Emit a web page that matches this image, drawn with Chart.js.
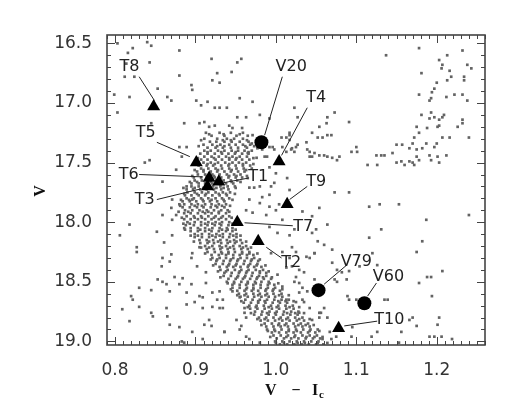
<!DOCTYPE html>
<html>
<head>
<meta charset="utf-8">
<script src="https://cdn.jsdelivr.net/npm/chart.js@4.4.1/dist/chart.umd.min.js"></script>
<style>
  html, body { margin: 0; padding: 0; background: #fff; }
  #wrap { width: 518px; height: 415px; }
</style>
</head>
<body>
<div id="wrap"><canvas id="cmd" width="518" height="415"></canvas></div>
<script>
// axis ticks
const xTicks = [0.8, 0.9, 1.0, 1.1, 1.2];
const yTicks = [16.5, 17.0, 17.5, 18.0, 18.5, 19.0];

// labelled targets (triangles) and variables (circles)
const triNames = ['T1', 'T2', 'T3', 'T4', 'T5', 'T6', 'T7', 'T8', 'T9', 'T10'];
const triX = [0.929, 0.978, 0.915, 1.004, 0.901, 0.917, 0.952, 0.848, 1.014, 1.078];
const triV = [17.66, 18.16, 17.70, 17.49, 17.50, 17.63, 18.00, 17.03, 17.85, 18.89];
const varNames = ['V20', 'V79', 'V60'];
const varX = [0.982, 1.053, 1.110];
const varV = [17.33, 18.57, 18.68];

// main sequence rows: [V, colour, colour, ...]
const msRows = [
  [17.250, 0.913, 0.930, 0.944, 0.959],
  [17.275, 0.920, 0.936, 0.951, 0.965],
  [17.300, 0.911, 0.927, 0.939, 0.948, 0.959],
  [17.325, 0.918, 0.926, 0.936, 0.945, 0.955, 0.966],
  [17.350, 0.910, 0.921, 0.931, 0.942, 0.950, 0.959, 0.968],
  [17.375, 0.915, 0.925, 0.934, 0.944, 0.953, 0.964],
  [17.400, 0.911, 0.919, 0.928, 0.936, 0.945, 0.953, 0.961, 0.970],
  [17.425, 0.906, 0.915, 0.924, 0.933, 0.941, 0.949, 0.958, 0.966],
  [17.450, 0.911, 0.920, 0.929, 0.938, 0.946, 0.955, 0.964],
  [17.475, 0.907, 0.915, 0.925, 0.933, 0.942, 0.950, 0.958, 0.967],
  [17.500, 0.910, 0.919, 0.928, 0.937, 0.946, 0.954, 0.963],
  [17.525, 0.904, 0.914, 0.922, 0.932, 0.941, 0.950, 0.959, 0.968],
  [17.550, 0.907, 0.916, 0.925, 0.933, 0.942, 0.951, 0.960],
  [17.575, 0.902, 0.910, 0.919, 0.927, 0.936, 0.944, 0.953, 0.961],
  [17.600, 0.903, 0.912, 0.921, 0.930, 0.939, 0.948, 0.956],
  [17.625, 0.898, 0.907, 0.915, 0.924, 0.932, 0.941, 0.950, 0.958],
  [17.650, 0.899, 0.908, 0.917, 0.926, 0.935, 0.944, 0.952],
  [17.675, 0.895, 0.904, 0.912, 0.921, 0.929, 0.938, 0.947],
  [17.700, 0.895, 0.904, 0.913, 0.922, 0.931, 0.940, 0.949],
  [17.725, 0.889, 0.897, 0.906, 0.914, 0.923, 0.932, 0.941],
  [17.750, 0.890, 0.899, 0.908, 0.916, 0.925, 0.934, 0.943],
  [17.775, 0.887, 0.895, 0.904, 0.912, 0.921, 0.930, 0.939],
  [17.800, 0.889, 0.898, 0.907, 0.916, 0.925, 0.933, 0.942],
  [17.825, 0.884, 0.893, 0.901, 0.910, 0.918, 0.927, 0.936],
  [17.850, 0.886, 0.895, 0.903, 0.912, 0.920, 0.929, 0.938],
  [17.875, 0.884, 0.893, 0.902, 0.910, 0.919, 0.927, 0.936],
  [17.900, 0.887, 0.896, 0.905, 0.914, 0.923, 0.932, 0.940],
  [17.925, 0.886, 0.894, 0.903, 0.912, 0.920, 0.929, 0.938],
  [17.950, 0.889, 0.898, 0.907, 0.916, 0.925, 0.934, 0.942],
  [17.975, 0.886, 0.894, 0.903, 0.912, 0.920, 0.929, 0.938],
  [18.000, 0.890, 0.899, 0.907, 0.916, 0.925, 0.933, 0.942],
  [18.025, 0.888, 0.898, 0.907, 0.915, 0.924, 0.932, 0.941],
  [18.050, 0.894, 0.903, 0.912, 0.921, 0.930, 0.939, 0.946],
  [18.075, 0.894, 0.903, 0.912, 0.920, 0.929, 0.938, 0.946],
  [18.100, 0.899, 0.908, 0.917, 0.926, 0.934, 0.943, 0.951],
  [18.125, 0.899, 0.908, 0.917, 0.925, 0.934, 0.942, 0.951],
  [18.150, 0.905, 0.914, 0.922, 0.931, 0.939, 0.948, 0.956],
  [18.175, 0.906, 0.915, 0.923, 0.932, 0.940, 0.949, 0.958],
  [18.200, 0.912, 0.921, 0.930, 0.938, 0.947, 0.955, 0.963],
  [18.225, 0.914, 0.923, 0.931, 0.940, 0.948, 0.957, 0.965],
  [18.250, 0.915, 0.924, 0.932, 0.941, 0.949, 0.958, 0.967],
  [18.275, 0.920, 0.929, 0.938, 0.947, 0.955, 0.964, 0.972],
  [18.300, 0.921, 0.930, 0.938, 0.947, 0.956, 0.964, 0.973],
  [18.325, 0.926, 0.935, 0.943, 0.952, 0.961, 0.969, 0.978],
  [18.350, 0.925, 0.934, 0.942, 0.951, 0.960, 0.968, 0.977],
  [18.375, 0.930, 0.939, 0.947, 0.956, 0.965, 0.973, 0.982],
  [18.400, 0.931, 0.940, 0.949, 0.957, 0.966, 0.975, 0.984],
  [18.425, 0.936, 0.945, 0.954, 0.963, 0.971, 0.980, 0.988],
  [18.450, 0.935, 0.944, 0.953, 0.962, 0.970, 0.979, 0.988],
  [18.475, 0.941, 0.950, 0.959, 0.968, 0.976, 0.985, 0.994],
  [18.500, 0.939, 0.948, 0.957, 0.965, 0.974, 0.982, 0.991],
  [18.525, 0.946, 0.955, 0.963, 0.972, 0.981, 0.990, 0.998],
  [18.550, 0.946, 0.955, 0.964, 0.972, 0.981, 0.990, 0.999],
  [18.575, 0.952, 0.961, 0.970, 0.978, 0.987, 0.996, 1.005],
  [18.600, 0.954, 0.963, 0.972, 0.980, 0.989, 0.997, 1.007],
  [18.625, 0.956, 0.965, 0.973, 0.982, 0.991, 0.999, 1.008],
  [18.650, 0.962, 0.971, 0.980, 0.989, 0.998, 1.007, 1.016],
  [18.675, 0.960, 0.969, 0.978, 0.987, 0.996, 1.005, 1.014],
  [18.700, 0.967, 0.976, 0.985, 0.994, 1.003, 1.012, 1.021],
  [18.725, 0.968, 0.977, 0.986, 0.995, 1.004, 1.013, 1.022],
  [18.750, 0.974, 0.983, 0.992, 1.001, 1.010, 1.019, 1.028],
  [18.775, 0.973, 0.982, 0.991, 1.000, 1.009, 1.018, 1.027],
  [18.800, 0.979, 0.988, 0.997, 1.006, 1.015, 1.024, 1.033],
  [18.825, 0.981, 0.990, 0.999, 1.008, 1.017, 1.026, 1.035],
  [18.850, 0.986, 0.995, 1.004, 1.013, 1.022, 1.031, 1.040],
  [18.875, 0.988, 0.997, 1.006, 1.015, 1.024, 1.033, 1.042],
  [18.900, 0.989, 0.998, 1.007, 1.016, 1.025, 1.034, 1.043],
  [18.925, 0.995, 1.004, 1.013, 1.022, 1.031, 1.040, 1.049],
  [18.950, 0.997, 1.006, 1.015, 1.024, 1.033, 1.042, 1.051],
  [18.975, 1.001, 1.010, 1.019, 1.028, 1.037, 1.046, 1.055],
  [19.000, 0.999, 1.008, 1.017, 1.026, 1.035, 1.044, 1.053],
  [19.025, 1.005, 1.014, 1.023, 1.032, 1.041, 1.050, 1.059]
];

// main sequence stars between the rows above
const msInnerRows = [
  [17.2625, 0.917, 0.935, 0.955],
  [17.3125, 0.907, 0.934, 0.944, 0.964],
  [17.3625, 0.904, 0.927, 0.936, 0.962, 0.973],
  [17.4125, 0.915, 0.932, 0.950, 0.966],
  [17.4625, 0.903, 0.923, 0.942, 0.951, 0.972],
  [17.5125, 0.915, 0.924, 0.942, 0.959, 0.972],
  [17.5625, 0.899, 0.910, 0.928, 0.945, 0.963],
  [17.6125, 0.896, 0.914, 0.923, 0.942, 0.951, 0.964],
  [17.6625, 0.893, 0.902, 0.919, 0.928, 0.945, 0.956],
  [17.7125, 0.885, 0.899, 0.910, 0.926, 0.935, 0.950],
  [17.7625, 0.886, 0.902, 0.913, 0.929, 0.938, 0.949],
  [17.8125, 0.882, 0.892, 0.909, 0.920, 0.935, 0.946],
  [17.8625, 0.881, 0.899, 0.908, 0.925, 0.933, 0.943],
  [17.9125, 0.879, 0.891, 0.909, 0.916, 0.929, 0.942],
  [17.9625, 0.883, 0.899, 0.908, 0.923, 0.932, 0.945],
  [18.0125, 0.885, 0.893, 0.912, 0.921, 0.930, 0.946],
  [18.0625, 0.887, 0.906, 0.917, 0.933, 0.940, 0.950],
  [18.1125, 0.894, 0.903, 0.921, 0.930, 0.947, 0.956],
  [18.1625, 0.898, 0.917, 0.928, 0.943, 0.951, 0.963],
  [18.2125, 0.907, 0.917, 0.933, 0.943, 0.959, 0.969],
  [18.2625, 0.912, 0.933, 0.941, 0.958, 0.967, 0.977],
  [18.3125, 0.919, 0.927, 0.944, 0.953, 0.970, 0.980],
  [18.3625, 0.922, 0.941, 0.950, 0.966, 0.976, 0.987],
  [18.4125, 0.928, 0.938, 0.955, 0.964, 0.980, 0.991],
  [18.4625, 0.931, 0.952, 0.961, 0.977, 0.984, 0.995],
  [18.5125, 0.940, 0.948, 0.965, 0.975, 0.992, 1.003],
  [18.5625, 0.944, 0.963, 0.972, 0.988, 0.997, 1.008],
  [18.6125, 0.952, 0.961, 0.978, 0.987, 1.004, 1.016],
  [18.6625, 0.957, 0.978, 0.986, 1.003, 1.012, 1.022],
  [18.7125, 0.965, 0.975, 0.991, 1.001, 1.017, 1.029],
  [18.7625, 0.969, 0.989, 0.999, 1.014, 1.024, 1.035],
  [18.8125, 0.977, 0.986, 1.004, 1.013, 1.029, 1.042],
  [18.8625, 0.982, 1.003, 1.011, 1.028, 1.037, 1.047],
  [18.9125, 0.990, 0.999, 1.016, 1.026, 1.042, 1.054],
  [18.9625, 0.993, 1.013, 1.023, 1.038, 1.048, 1.058],
  [19.0125, 1.000, 1.010, 1.027, 1.036, 1.052, 1.064]
];

// field, subgiant and giant stars: [colour, V]
const fieldStars = [
  [0.803,16.50],[0.816,16.58],[0.822,16.54],[0.840,16.49],[0.845,16.52],[0.843,16.66],[0.880,16.56],
  [0.814,16.67],[0.812,16.78],[0.824,16.78],[0.799,16.93],[0.818,16.95],[0.803,17.08],[0.853,16.88],
  [0.865,16.95],[0.870,16.98],[0.880,16.77],[0.895,16.85],[0.896,16.89],[0.920,16.63],[0.921,16.81],
  [0.927,16.75],[0.930,16.83],[0.945,16.74],[0.952,16.66],[0.957,16.63],[0.955,16.96],[0.901,16.98],
  [0.907,17.02],[0.915,16.99],[0.924,17.04],[0.930,17.04],[0.939,17.04],[0.952,17.12],[0.963,17.12],
  [0.958,17.21],[0.886,17.17],[0.905,17.17],[0.911,17.16],[0.917,17.20],[0.924,17.19],[0.942,17.19],
  [0.946,17.21],[0.845,17.17],[0.837,17.50],[0.843,17.48],[0.859,17.66],[0.876,17.56],[0.880,17.37],
  [0.889,17.37],[0.883,17.45],[0.889,17.70],[0.896,17.81],[0.871,17.81],
  [0.971,16.99],[0.980,17.10],[0.992,17.13],[1.007,17.29],[1.017,17.25],[0.971,17.27],
  [0.965,17.42],[0.976,17.46],[0.970,17.55],[0.965,17.63],[0.973,17.71],[0.967,17.71],[0.994,17.70],
  [0.983,17.79],[0.980,17.84],[0.967,17.81],[0.992,17.87],[0.963,17.90],[0.971,17.92],[0.988,17.94],
  [1.000,17.90],[1.004,17.85],[1.008,17.98],[0.992,18.04],[1.017,17.73],[1.014,17.63],[1.000,17.59],
  [0.992,17.54],[0.986,17.45],[0.996,17.37],[1.013,17.29],[1.027,17.35],
  [0.970,17.34],[0.992,17.37],[0.998,17.39],[1.008,17.37],[1.013,17.41],[0.983,17.39],[0.977,17.38],
  [0.989,17.45],[0.980,17.70],[0.992,17.77],[0.998,17.67],
  [1.137,16.60],[1.178,16.54],[1.181,16.75],[1.203,16.64],[1.207,16.68],[1.213,16.60],[1.232,16.56],
  [1.238,16.68],[1.243,16.71],[1.216,16.73],[1.206,16.71],[1.218,16.78],[1.213,16.81],[1.234,16.78],
  [1.234,16.81],[1.200,16.83],[1.197,16.88],[1.194,16.91],[1.178,16.93],[1.193,16.96],[1.191,16.98],
  [1.212,16.95],[1.222,16.93],[1.232,16.93],[1.238,16.98],[1.193,17.08],[1.181,17.10],[1.191,17.13],
  [1.197,17.12],[1.203,17.14],[1.207,17.12],[1.209,17.10],[1.201,17.20],[1.203,17.19],[1.232,17.14],
  [1.232,17.17],[1.226,17.20],[1.216,17.29],[1.207,17.29],[1.188,17.21],[1.175,17.20],[1.178,17.25],
  [1.172,17.29],[1.170,17.34],[1.187,17.34],[1.200,17.34],[1.197,17.37],[1.182,17.38],[1.175,17.39],
  [1.166,17.38],[1.240,17.29],[1.175,17.45],[1.191,17.44],[1.201,17.45],[1.212,17.44],[1.203,17.50],
  [1.193,17.48],[1.178,17.48],[1.166,17.49],[1.170,17.50],[1.172,17.52],[1.160,17.52],[1.150,17.50],
  [1.156,17.49],[1.145,17.42],[1.150,17.35],[1.157,17.35],[1.135,17.44],[1.131,17.44],[1.125,17.44],
  [1.126,17.52],[1.114,17.52],[1.100,17.37],[1.101,17.41],[1.094,17.41],[1.091,17.16],[1.079,17.45],
  [1.076,17.48],[1.070,17.46],[1.064,17.45],[1.060,17.44],[1.054,17.44],[1.048,17.42],[1.045,17.45],
  [1.042,17.41],[1.039,17.39],[1.042,17.45],[1.038,17.33],[1.025,17.37],[1.020,17.38],[1.019,17.39],
  [1.023,17.41],[1.017,17.31],[1.027,17.12],[1.023,17.04],[1.054,17.20],[1.063,17.17],[1.064,17.12],
  [1.073,17.08],[1.058,17.29],[1.064,17.27],[1.069,17.27],[1.052,17.29],[1.045,17.25],[1.017,17.27],
  [1.091,17.75],[1.073,17.75],[1.116,17.87],[1.129,17.85],[1.153,17.85],
  [1.240,17.94],[1.187,17.98],[1.131,18.06],[1.064,18.02],[1.116,18.13],[1.182,18.16],[1.175,18.25],
  [1.207,18.41],[1.193,18.46],[1.188,18.46],[1.178,18.51],[1.194,18.62],[1.135,18.65],[1.139,18.65],
  [1.170,18.80],[1.203,18.80],[1.201,18.86],[1.175,18.87],[1.166,18.82],[1.126,18.92],[1.156,18.92],
  [1.191,18.96],[1.197,18.96],[1.206,18.96],[1.153,19.01],[1.219,18.98],[1.119,18.96],[1.091,18.65],
  [1.089,18.62],[1.100,18.65],[1.076,18.50],[1.073,18.48],[1.088,18.48],[1.091,18.41],[1.120,18.26],
  [1.126,18.36],[1.104,18.37],[1.070,18.23],[1.060,18.19],[1.052,18.16],[1.048,18.26],[1.042,18.30],
  [1.035,18.42],[1.070,18.34],[1.076,18.40],[1.082,18.42],[1.060,18.72],[1.056,18.76],[1.054,18.80],
  [1.064,18.80],[1.094,18.96],[1.095,18.88],[1.075,18.96],[1.067,18.92],[1.069,18.98],[1.039,18.58],
  [1.033,18.65],[1.035,18.67],[1.029,18.59],[1.029,18.51],[1.025,18.46],[1.052,18.57],[1.048,18.48],
  [1.017,18.30],[1.020,18.37],[1.013,18.38],[1.025,18.25],[1.020,18.21],[1.045,18.09],[1.050,18.06],
  [1.045,17.95],[1.033,17.91],[1.054,17.88],
  [1.002,18.09],[1.017,18.11],[1.023,18.06],[0.994,18.26],[1.008,18.25],[1.038,18.29],[1.048,18.26],
  [1.029,18.40],[1.023,18.50],[1.033,18.55],[1.008,18.54],[1.002,18.44],[1.013,18.65],[1.025,18.67],
  [1.029,18.76],[1.042,18.72],[1.045,18.82],[1.054,18.76],[1.052,18.90],[1.058,18.98],
  [0.913,18.42],[0.909,18.63],[0.921,18.59],[0.934,18.65],[0.930,18.72],[0.917,18.82],[0.936,18.92],
  [0.951,18.82],[0.955,18.90],[0.961,18.76],[0.967,18.98],[0.980,19.01],
  [0.806,18.11],[0.818,18.02],[0.827,18.21],[0.827,18.25],[0.852,18.08],[0.859,17.94],[0.861,18.17],
  [0.871,18.11],[0.870,17.88],[0.876,17.94],[0.859,18.30],[0.858,18.37],[0.868,18.33],[0.870,18.27],
  [0.874,18.46],[0.884,18.47],[0.853,18.48],[0.859,18.50],[0.864,18.52],[0.880,18.52],[0.868,18.58],
  [0.830,18.55],[0.845,18.57],[0.820,18.62],[0.822,18.65],[0.830,18.71],[0.809,18.73],[0.818,18.83],
  [0.845,18.76],[0.847,18.79],[0.864,18.72],[0.865,18.79],[0.868,18.86],[0.880,18.88],[0.889,18.69],
  [0.889,18.59],[0.895,18.52],[0.899,18.67],[0.905,18.62],[0.909,18.72],[0.911,18.86],[0.920,18.87],
  [0.921,18.71],[0.927,18.65],[0.930,18.58],[0.934,18.72],[0.936,18.92],[0.963,18.96],[0.957,18.87],
  [0.963,18.80],[0.961,18.72],[0.955,18.63],[0.946,18.58],[0.883,19.00],[0.886,19.01],[0.909,18.98],
  [0.896,18.92],[0.913,18.51],[0.902,18.37],[0.895,18.30],[0.896,18.26],[0.905,18.21],[0.871,17.98],
  [0.886,18.05],[0.880,17.85]
];

// callouts: name -> [label x, label V, line start x, V, line end x, V]
const callouts = {
  T8: [0.818, 16.70, 0.830, 16.78, 0.849, 16.98],
  T5: [0.838, 17.25, 0.852, 17.33, 0.893, 17.45],
  T6: [0.817, 17.60, 0.830, 17.60, 0.909, 17.62],
  T1: [0.978, 17.62, 0.934, 17.67, 0.966, 17.63],
  T3: [0.837, 17.81, 0.852, 17.81, 0.907, 17.72],
  V20: [1.019, 16.70, 1.008, 16.78, 0.986, 17.27],
  T4: [1.050, 16.96, 1.039, 17.04, 1.007, 17.44],
  T9: [1.050, 17.66, 1.039, 17.70, 1.017, 17.81],
  T7: [1.034, 18.04, 0.961, 18.005, 1.021, 18.03],
  T2: [1.019, 18.34, 0.988, 18.21, 1.007, 18.30],
  V79: [1.100, 18.33, 1.060, 18.52, 1.088, 18.36],
  V60: [1.140, 18.46, 1.114, 18.62, 1.125, 18.51],
  T10: [1.141, 18.82, 1.085, 18.87, 1.126, 18.83]
};

const msPoints = [];
msRows.concat(msInnerRows).forEach(r => r.slice(1).forEach(c => msPoints.push({ x: c, y: r[0] })));
const fieldPoints = fieldStars.map(p => ({ x: p[0], y: p[1] }));
const triPoints = triX.map((c, i) => ({ x: c, y: triV[i] }));
const varPoints = varX.map((c, i) => ({ x: c, y: varV[i] }));

const dotColor = '#636363';

// frame, inward ticks, callouts and axis titles
const decor = {
  id: 'decor',
  afterDatasetsDraw(chart) {
    const { ctx, chartArea: a, scales: { x, y } } = chart;
    ctx.save();

    // callout lines and labels
    ctx.strokeStyle = '#222';
    ctx.lineWidth = 1;
    ctx.fillStyle = '#222';
    ctx.font = '16px "DejaVu Sans"';
    ctx.textAlign = 'center';
    ctx.textBaseline = 'middle';
    Object.keys(callouts).forEach(name => {
      const c = callouts[name];
      ctx.beginPath();
      ctx.moveTo(x.getPixelForValue(c[2]), y.getPixelForValue(c[3]));
      ctx.lineTo(x.getPixelForValue(c[4]), y.getPixelForValue(c[5]));
      ctx.stroke();
      ctx.fillText(name, x.getPixelForValue(c[0]), y.getPixelForValue(c[1]));
    });

    // ticks
    ctx.strokeStyle = '#444';
    ctx.lineWidth = 1;
    ctx.beginPath();
    for (let i = 79; i <= 126; i++) {
      const px = Math.round(x.getPixelForValue(i / 100)) + 0.5;
      const len = i % 10 === 0 ? 8 : 4;
      ctx.moveTo(px, a.bottom); ctx.lineTo(px, a.bottom - len);
      ctx.moveTo(px, a.top); ctx.lineTo(px, a.top + len);
    }
    for (let i = 165; i <= 190; i++) {
      const py = Math.round(y.getPixelForValue(i / 10)) + 0.5;
      const len = i % 5 === 0 ? 8 : 4;
      ctx.moveTo(a.left, py); ctx.lineTo(a.left + len, py);
      ctx.moveTo(a.right, py); ctx.lineTo(a.right - len, py);
    }
    ctx.stroke();

    // frame
    ctx.lineWidth = 1.6;
    ctx.strokeStyle = '#444';
    ctx.strokeRect(a.left, a.top, a.right - a.left, a.bottom - a.top);

    // axis titles
    ctx.fillStyle = '#111';
    ctx.font = 'bold 16px "Liberation Serif"';
    ctx.textBaseline = 'alphabetic';
    ctx.textAlign = 'left';
    ctx.fillText('V', 265, 395);
    ctx.textAlign = 'center';
    ctx.fillText('\u2212', 296, 395);
    ctx.textAlign = 'left';
    ctx.fillText('I', 312, 395);
    ctx.font = 'bold 11px "Liberation Serif"';
    ctx.fillText('c', 319, 398);

    ctx.translate(45, 191);
    ctx.rotate(-Math.PI / 2);
    ctx.font = 'bold 16px "Liberation Serif"';
    ctx.textAlign = 'center';
    ctx.fillText('V', 0, 0);
    ctx.restore();
  }
};

new Chart(document.getElementById('cmd'), {
  type: 'scatter',
  data: {
    datasets: [
      { label: 'targets', data: triPoints, pointStyle: 'triangle', pointRadius: 7.5,
        backgroundColor: '#000', borderWidth: 0, order: 0 },
      { label: 'variables', data: varPoints, pointStyle: 'circle', pointRadius: 7,
        backgroundColor: '#000', borderWidth: 0, order: 0 },
      { label: 'main sequence', data: msPoints, pointStyle: 'rect', pointRadius: 1.9,
        backgroundColor: dotColor, borderWidth: 0, order: 2 },
      { label: 'field', data: fieldPoints, pointStyle: 'rect', pointRadius: 1.9,
        backgroundColor: dotColor, borderWidth: 0, order: 2 }
    ]
  },
  options: {
    responsive: false,
    animation: false,
    devicePixelRatio: 1,
    layout: { padding: { top: 35, right: 33, left: 0, bottom: 0 } },
    plugins: { legend: { display: false }, tooltip: { enabled: false } },
    scales: {
      x: {
        type: 'linear', min: 0.79, max: 1.26,
        afterBuildTicks: s => { s.ticks = xTicks.map(v => ({ value: v })); },
        afterFit: s => { s.height = 70; },
        grid: { display: false }, border: { display: false },
        ticks: { padding: 7, color: '#333', font: { family: 'DejaVu Sans', size: 17 },
          callback: v => v.toFixed(1) }
      },
      y: {
        type: 'linear', reverse: true, min: 16.43, max: 19.03,
        afterBuildTicks: s => { s.ticks = yTicks.map(v => ({ value: v })); },
        afterFit: s => { s.width = 107; },
        grid: { display: false }, border: { display: false },
        ticks: { padding: 7, color: '#333', font: { family: 'DejaVu Sans', size: 17 },
          callback: v => v.toFixed(1) }
      }
    }
  },
  plugins: [decor]
});
</script>
</body>
</html>
